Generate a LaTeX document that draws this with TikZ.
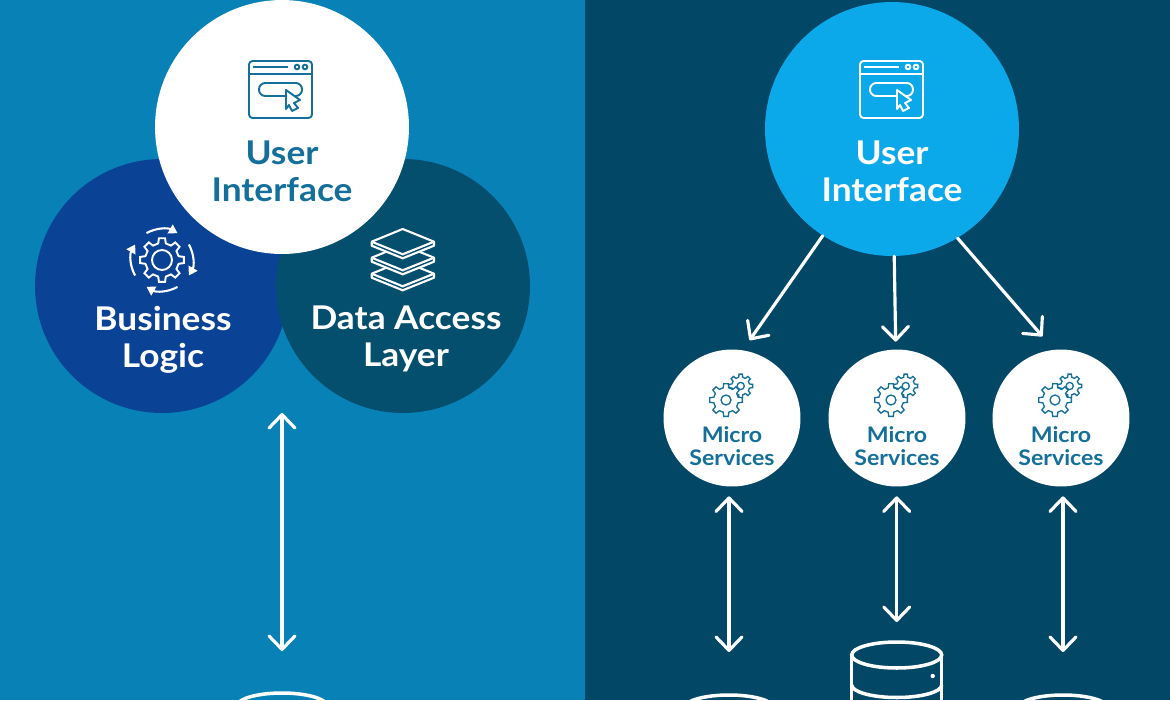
\documentclass[tikz,border=0pt]{standalone}
\usepackage{fontspec}
\setmainfont{Lato}[FakeStretch=1.08]
\usetikzlibrary{arrows.meta,shapes.geometric}
\definecolor{leftbg}{HTML}{0881B7}
\definecolor{rightbg}{HTML}{034766}
\definecolor{bizblue}{HTML}{0A4296}
\definecolor{datateal}{HTML}{044E6E}
\definecolor{uiblue}{HTML}{0BA8EA}
\definecolor{inktext}{HTML}{146F9B}
\tikzset{
  bigcirc/.style={circle,inner sep=0pt,minimum size=5.08cm},
  smallcirc/.style={circle,fill=white,inner sep=0pt,minimum size=2.74cm},
  bigtext/.style={font=\fontsize{18.6}{21}\selectfont\bfseries,align=center,inner sep=0pt},
  smalltext/.style={font=\fontsize{12.2}{13.2}\selectfont\bfseries,align=center,inner sep=0pt,text=inktext},
  flow/.style={draw=white,line width=1.8pt,line cap=round,-{Straight Barb[round,length=2.7mm,width=5.2mm]}},
  flowboth/.style={draw=white,line width=1.8pt,line cap=round,{Straight Barb[round,length=2.7mm,width=5.2mm]}-{Straight Barb[round,length=2.7mm,width=5.2mm]}},
  dbtop/.style={ellipse,draw=white,line width=2pt,inner sep=0pt,outer sep=0pt,minimum width=1.8cm,minimum height=.52cm},
  dbline/.style={draw=white,line width=2pt}
}
% x y r-outer r-inner teeth, options
\newcommand{\gearshape}[6]{
\draw[#6] ({#1+#4*cos(-13)},{#2+#4*sin(-13)})
  \foreach \t in {1,...,#5} {
    -- ({#1+#3*cos(\t*360/#5-360/#5-8)},{#2+#3*sin(\t*360/#5-360/#5-8)})
    -- ({#1+#3*cos(\t*360/#5-360/#5+8)},{#2+#3*sin(\t*360/#5-360/#5+8)})
    -- ({#1+#4*cos(\t*360/#5-360/#5+13)},{#2+#4*sin(\t*360/#5-360/#5+13)})
    -- ({#1+#4*cos(\t*360/#5-13)},{#2+#4*sin(\t*360/#5-13)})
  } -- cycle;
}
% x offset, colour
\newcommand{\browsericon}[2]{
\begin{scope}[xshift=#1*.02cm,draw=#2,line width=1.1pt,line join=round]
\draw[rounded corners=2pt] (249,61) rectangle (312,118);
\draw (249,74) -- (312,74);
\draw (253,67) -- (288,67);
\draw (297,67) circle (2.3);
\draw (305,67) circle (2.3);
\draw[rounded corners=3.6pt] (259,83) rectangle (302,96);
\end{scope}
}
\newcommand{\cursoricon}[3]{
\draw[xshift=#1*.02cm,draw=#2,line width=1.1pt,line join=round,fill=#3] (286,90) -- (300,100) -- (294,103) -- (298,108) -- (292,111) -- (289,105) -- (286,109) -- cycle;
}
\newcommand{\microgears}[1]{
\gearshape{#1-6+14.7}{386}{12}{9}{8}{draw=inktext,line width=.75pt,fill=white}
\draw[draw=inktext,line width=.75pt] (#1-6+14.7,386) circle (3.6);
\gearshape{#1-6}{400}{16.5}{12.5}{8}{draw=inktext,line width=.75pt,fill=white}
\draw[draw=inktext,line width=.75pt] (#1-6,400) circle (5);
}
\begin{document}
\begin{tikzpicture}[x=.02cm,y=-.02cm]
\clip (0,0) rectangle (1170,700);
\fill[leftbg] (0,0) rectangle (585,700);
\fill[rightbg] (585,0) rectangle (1170,700);

\node[bigcirc,fill=bizblue] (biz) at (162,286) {};
\node[bigcirc,fill=datateal] (data) at (403,286) {};
\node[bigcirc,fill=white] (uileft) at (282,127) {};
\node[bigcirc,fill=uiblue] (uiright) at (892,129) {};

\node[smallcirc] (ms1) at (732,418) {};
\node[smallcirc] (ms2) at (897,418) {};
\node[smallcirc] (ms3) at (1061,418) {};

\node[bigtext,text=inktext] (uilefttext) at (282,171) {User\\Interface};
\node[bigtext,text=white] (uirighttext) at (892,171) {User\\Interface};
\node[bigtext,text=white] (biztext) at (163,340) {Business\\Logic};
\node[bigtext,text=white] (datatext) at (406,339) {Data Access\\Layer};
\node[smalltext] (mstext1) at (732,446) {Micro\\Services};
\node[smalltext] (mstext2) at (897,446) {Micro\\Services};
\node[smalltext] (mstext3) at (1061,446) {Micro\\Services};

\browsericon{0}{inktext}
\cursoricon{0}{inktext}{white}
\browsericon{611}{white}
\cursoricon{611}{white}{uiblue}

\gearshape{162}{260}{22}{17}{8}{draw=white,line width=1.1pt}
\draw[white,line width=1.1pt] (162,260) circle (10);
\foreach \a in {0,90,180,270} {
  \draw[white,line width=1.2pt,-{Triangle[length=1.7mm,width=2mm]}] ({162+31*cos(\a+60)},{260+31*sin(\a+60)}) arc ({\a+60}:{\a+120}:31);
}

\foreach \y in {32,16,0} {
  \draw[draw=white,line width=1.2pt,fill=datateal,line join=round] (371.7,241.7+\y) -- (371.7,245.7+\y) -- (402.7,258.3+\y) -- (434,245.7+\y) -- (434,241.7+\y) -- (402.7,229+\y) -- cycle;
  \draw[draw=white,line width=1.2pt,line join=round] (371.7,241.7+\y) -- (402.7,254.3+\y) -- (434,241.7+\y);
}

\microgears{732}
\microgears{897}
\microgears{1061}

\node[dbtop] (dbleft) at (282,706) {};
\node[dbtop] (db1) at (729,708) {};
\node[dbtop] (db2) at (896.7,655) {};
\node[dbtop] (db3) at (1063,708) {};
\draw[dbline] (db2.west) -- ++(0,50);
\draw[dbline] (db2.east) -- ++(0,50);
\draw[dbline] (851.7,685) arc (180:0:45 and 12.5);
\fill[white] (932.7,676) circle (2.2);

\coordinate (stackend) at (282,413);
\draw[flowboth,shorten >=.84cm] (stackend) -- (dbleft.north);

\draw[flow,shorten >=.24cm] (uiright.237.4) -- (ms1.81);
\draw[flow,shorten >=.15cm] (uiright.271.8) -- (ms2.91);
\draw[flow,shorten >=.35cm] (uiright.301.2) -- (ms3.96);

\draw[flowboth,shorten <=.19cm,shorten >=.86cm] (ms1.south -| db1.north) -- (db1.north);
\draw[flowboth,shorten <=.19cm,shorten >=.4cm] (ms2.south -| db2.north) -- (db2.north);
\draw[flowboth,shorten <=.19cm,shorten >=.86cm] (ms3.south -| db3.north) -- (db3.north);
\end{tikzpicture}
\end{document}
